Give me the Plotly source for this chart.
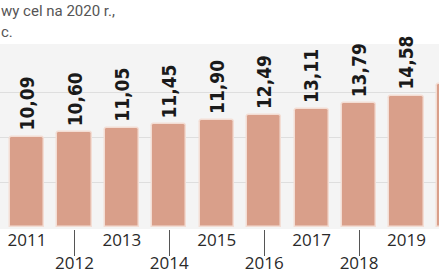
import plotly.graph_objects as go

years = [2010, 2011, 2012, 2013, 2014, 2015, 2016, 2017, 2018, 2019, 2020]
values = [9.60, 10.09, 10.60, 11.05, 11.45, 11.90, 12.49, 13.11, 13.79, 14.58, 15.90]
labels = [f"{v:.2f}".replace(".", ",") for v in values]
even_years = [y for y in years if y % 2 == 0]
odd_years = [y for y in years if y % 2 == 1]
grid_vals = [5, 10, 15]

W, H = 439, 274
top, bottom = 44, 45
plot_h = H - top - bottom

fig = go.Figure()
fig.add_trace(go.Bar(
    x=years, y=values, width=0.72,
    marker=dict(color="#d99f8a", line=dict(color="#f3ddd4", width=1.5), cornerradius=3),
    hoverinfo="skip",
))
# invisible trace to activate second x axis (odd-year labels)
fig.add_trace(go.Scatter(x=odd_years, y=[0]*len(odd_years), xaxis="x2", mode="markers",
                         marker=dict(opacity=0), hoverinfo="skip", showlegend=False))

for yr, v, lab in zip(years, values, labels):
    fig.add_annotation(x=yr, y=v, text=lab, textangle=-90, showarrow=False,
                       xanchor="center", yanchor="bottom", yshift=4,
                       font=dict(family="DejaVu Sans Condensed, DejaVu Sans", size=19,
                                 color="#1a1a1a", weight="bold"))

xr = [2010.431, 2019.685]
fig.update_layout(
    width=W, height=H,
    margin=dict(l=0, r=0, t=top, b=bottom, pad=0, autoexpand=False),
    paper_bgcolor="white", plot_bgcolor="#f4f4f4",
    showlegend=False, bargap=0,
    xaxis=dict(range=xr, tickvals=even_years, ticktext=[str(y) for y in even_years],
               ticks="outside", ticklen=26, tickcolor="#555555", tickwidth=1,
               ticklabelstandoff=-7, automargin=False,
               showgrid=False, zeroline=False, showline=False,
               tickfont=dict(family="Open Sans", size=17, color="#2a2a2a")),
    xaxis2=dict(range=xr, overlaying="x", side="bottom", anchor="y",
                tickvals=odd_years, ticktext=[str(y) for y in odd_years],
                ticks="", ticklen=0, ticklabelstandoff=-1, automargin=False,
                showgrid=False, zeroline=False, showline=False,
                tickfont=dict(family="Open Sans", size=17, color="#2a2a2a")),
    yaxis=dict(range=[-0.19, 20.37], tickvals=grid_vals, showticklabels=False, automargin=False,
               showgrid=True, gridcolor="#dedede", gridwidth=1, zeroline=False, showline=False),
)

def py(ypx):
    return (H - bottom - ypx) / plot_h

fig.add_annotation(text="wy cel na 2020 r.,", xref="paper", yref="paper", x=-0.003, y=py(11),
                   xanchor="left", yanchor="middle", showarrow=False,
                   font=dict(family="Roboto", size=15, color="#555555"))
fig.add_annotation(text="c.", xref="paper", yref="paper", x=-0.003, y=py(32),
                   xanchor="left", yanchor="middle", showarrow=False,
                   font=dict(family="Roboto", size=15, color="#555555"))

fig.write_html("out.html")
